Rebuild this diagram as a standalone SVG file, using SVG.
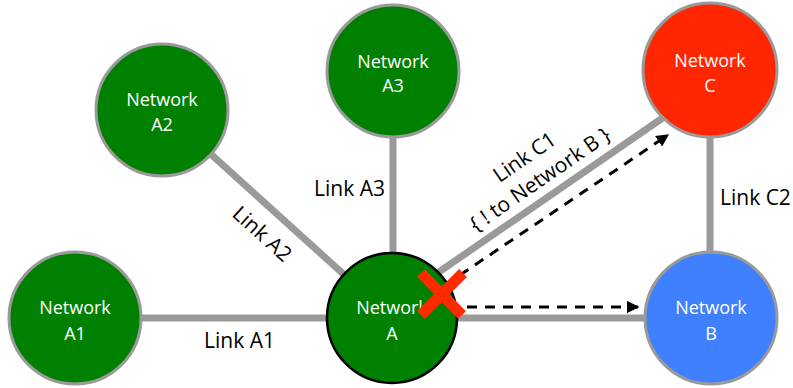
<svg xmlns="http://www.w3.org/2000/svg" width="793" height="388" viewBox="0 0 793 388">
<defs>
<style>
.link{stroke:#9a9a9a;stroke-width:7;fill:none}
.node{stroke:#9a9a9a;stroke-width:3}
.green{fill:#008000}
.ntext{font-family:"Open Sans","DejaVu Sans",sans-serif;font-size:18px;fill:#ffffff;text-anchor:middle}
.ltext{font-family:"Open Sans","DejaVu Sans",sans-serif;font-size:21px;fill:#000000}
.dash{stroke:#000;stroke-width:3;stroke-dasharray:10 8;fill:none}
</style>
<marker id="arr" viewBox="0 0 10 10" refX="9" refY="5" markerWidth="4.2" markerHeight="4.2" markerUnits="strokeWidth" orient="auto">
<path d="M0,0 L10,5 L0,10 z" fill="#000"/>
</marker>
</defs>
<rect width="793" height="388" fill="#ffffff"/>
<g id="connectors">
<line class="link" x1="75" y1="318" x2="392" y2="318"/>
<line class="link" x1="162" y1="110" x2="392" y2="318"/>
<line class="link" x1="393" y1="71" x2="393" y2="318"/>
<line class="link" x1="392" y1="318" x2="711" y2="318"/>
<line class="link" x1="420" y1="285" x2="680" y2="106"/>
<line class="link" x1="710" y1="70" x2="710" y2="318"/>
<line class="dash" x1="467" y1="307" x2="638" y2="307" marker-end="url(#arr)"/>
<line class="dash" x1="460" y1="275" x2="668" y2="135" marker-end="url(#arr)"/>
</g>
<g id="labels">
<text class="ltext" x="204" y="348">Link A1</text>
<text class="ltext" x="385" y="196" text-anchor="end">Link A3</text>
<text class="ltext" x="720" y="205">Link C2</text>
<text class="ltext" text-anchor="middle" transform="translate(262,234) rotate(42)" y="7">Link A2</text>
<g transform="translate(532,168) rotate(-34.6)">
<text class="ltext" text-anchor="middle" y="-6">Link C1</text>
<text class="ltext" text-anchor="middle" y="21">{ ! to Network B }</text>
</g>
</g>
<g id="node-a1">
<circle class="node green" cx="75" cy="318" r="66"/>
<text class="ntext" x="75" y="314">Network</text>
<text class="ntext" x="75" y="340">A1</text>
</g>
<g id="node-a2">
<circle class="node green" cx="162" cy="110" r="66"/>
<text class="ntext" x="162" y="106">Network</text>
<text class="ntext" x="162" y="131">A2</text>
</g>
<g id="node-a3">
<circle class="node green" cx="393" cy="71" r="66"/>
<text class="ntext" x="393" y="68">Network</text>
<text class="ntext" x="393" y="92">A3</text>
</g>
<g id="node-c">
<circle class="node" fill="#ff2600" cx="710" cy="70" r="67"/>
<text class="ntext" x="710" y="67">Network</text>
<text class="ntext" x="710" y="92">C</text>
</g>
<g id="node-b">
<circle class="node" fill="#3f80ff" cx="711" cy="318" r="66"/>
<text class="ntext" x="711" y="314">Network</text>
<text class="ntext" x="711" y="340">B</text>
</g>
<g id="node-a">
<circle class="green" stroke="#000" stroke-width="2.5" cx="392" cy="318" r="65"/>
<text class="ntext" x="392" y="314">Network</text>
<text class="ntext" x="392" y="340">A</text>
</g>
<g id="cross">
<line x1="421" y1="273" x2="462" y2="315" stroke="#ff2a00" stroke-width="11"/>
<line x1="463" y1="273" x2="421" y2="315" stroke="#ff2a00" stroke-width="11"/>
</g>
</svg>
